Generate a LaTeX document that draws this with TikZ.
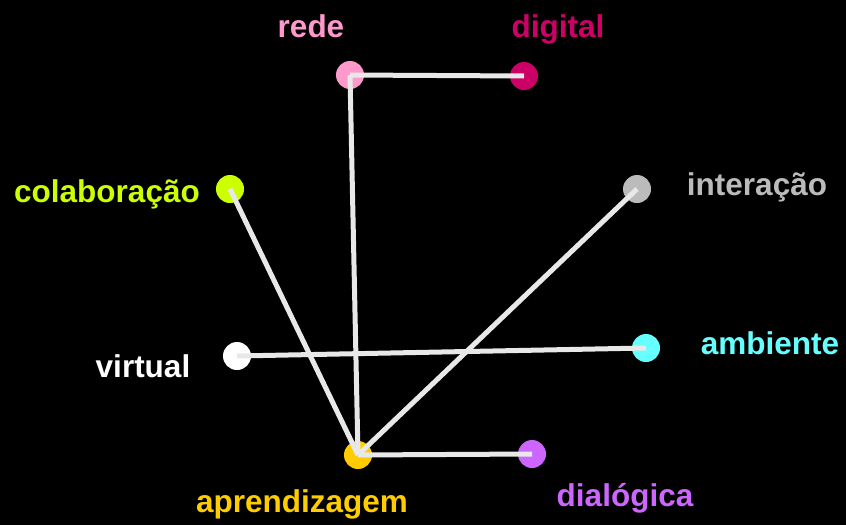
\documentclass[tikz,border=0pt]{standalone}
\usepackage{fontspec}
\setmainfont{Liberation Sans}
\begin{document}
\begin{tikzpicture}[x=1pt,y=-1pt,
  dot/.style={circle,inner sep=0pt,minimum size=28pt,fill=#1},
  word/.style={anchor=base,inner sep=0pt,text=#1,font=\fontsize{31.5}{32}\selectfont\bfseries},
  link/.style={draw=linkgray,line width=5pt}]
\definecolor{linkgray}{HTML}{E8E8E8}
\definecolor{cRede}{HTML}{FF99CC}
\definecolor{cDigital}{HTML}{CC0066}
\definecolor{cColab}{HTML}{CCFF00}
\definecolor{cInter}{HTML}{BBBBBB}
\definecolor{cVirtual}{HTML}{FFFFFF}
\definecolor{cAmb}{HTML}{66FFFF}
\definecolor{cAprend}{HTML}{FFCC00}
\definecolor{cDialog}{HTML}{CC66FF}
% canvas
\fill[black] (0,0) rectangle (846,525);
\useasboundingbox (0,0) rectangle (846,525);
% points
\node[dot=cRede]    (rede)    at (350,75)  {};
\node[dot=cDigital] (digital) at (524,76)  {};
\node[dot=cColab]   (colab)   at (230,189) {};
\node[dot=cInter]   (inter)   at (637,189) {};
\node[dot=cVirtual] (virtual) at (237,356) {};
\node[dot=cAmb]     (amb)     at (646,348) {};
\node[dot=cAprend]  (aprend)  at (358,455) {};
\node[dot=cDialog]  (dialog)  at (532,454) {};
% labels
\node[word=cRede]    (tRede)    at (311,37)  {rede};
\node[word=cDigital] (tDigital) at (558,37)  {digital};
\node[word=cColab]   (tColab)   at (107,202) {colaboração};
\node[word=cInter]   (tInter)   at (757,195) {interação};
\node[word=cVirtual] (tVirtual) at (143,377) {virtual};
\node[word=cAmb]     (tAmb)     at (770,354) {ambiente};
\node[word=cAprend]  (tAprend)  at (302,512) {aprendizagem};
\node[word=cDialog]  (tDialog)  at (625,506) {dialógica};
% links
\draw[link] (rede.center) -- (digital.center);
\draw[link] (rede.center) -- (aprend.center);
\draw[link] (colab.center) -- (aprend.center);
\draw[link] (inter.center) -- (aprend.center);
\draw[link] (virtual.center) -- (amb.center);
\draw[link] (aprend.center) -- (dialog.center);
\end{tikzpicture}
\end{document}
